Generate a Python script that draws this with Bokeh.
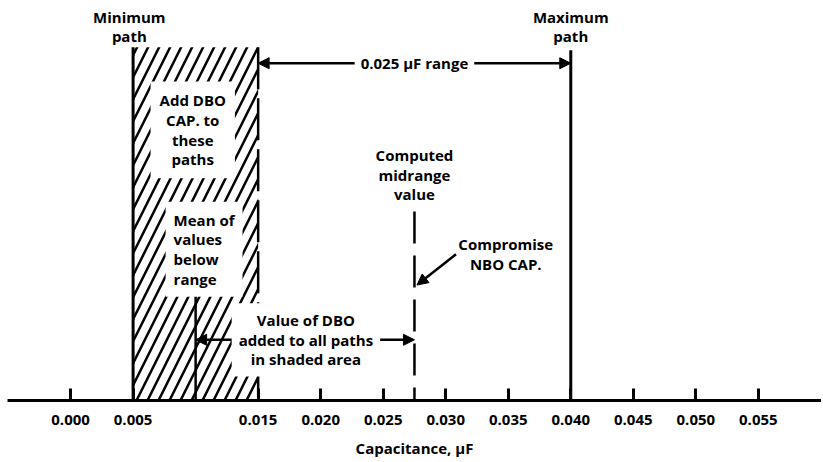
from bokeh.plotting import figure
from bokeh.models import Range1d, FixedTicker, Arrow, NormalHead, Label
from bokeh.embed import file_html
from bokeh.resources import INLINE

# ---- data (capacitance in microfarads) ----
tick_values = [0.000, 0.005, 0.015, 0.020, 0.025, 0.030, 0.035, 0.040, 0.045, 0.050, 0.055]
tick_labels = ["0.000", "0.005", "0.015", "0.020", "0.025", "0.030", "0.035", "0.040", "0.045", "0.050", "0.055"]
minimum_path = 0.005
maximum_path = 0.040
shaded_region = [0.005, 0.015]
mean_below_range = 0.010
midrange_value = 0.0275
range_width = 0.025

# vertical diagram levels (arbitrary units above the axis)
path_tops = [355, 352]          # minimum, maximum path line tops
mean_top = 114
midrange_top = 190
range_arrow_level = 339
dbo_arrow_level = 61

FONT = "Open Sans"
FS = "15px"
LH = 0.98

p = figure(width=821, height=460, output_backend="svg", toolbar_location=None,
           x_range=Range1d(-0.005044, 0.06005), y_range=Range1d(0, 394),
           y_axis_location=None, min_border_left=7, min_border_right=0,
           min_border_top=8, min_border_bottom=58)
p.outline_line_color = None
p.xgrid.visible = False
p.ygrid.visible = False
p.background_fill_color = "white"
p.border_fill_color = "white"

ax = p.xaxis[0]
ax.ticker = FixedTicker(ticks=tick_values)
ax.major_label_overrides = {v: l for v, l in zip(tick_values, tick_labels)}
ax.minor_tick_line_color = None
ax.major_tick_in = 12
ax.major_tick_out = 0
ax.major_tick_line_width = 3
ax.axis_line_width = 3
ax.major_label_standoff = 14
ax.major_label_text_font = FONT
ax.major_label_text_font_style = "bold"
ax.major_label_text_font_size = FS
ax.major_label_text_color = "black"
ax.axis_label = "Capacitance, µF"
ax.axis_label_text_font = FONT
ax.axis_label_text_font_style = "bold"
ax.axis_label_text_font_size = FS
ax.axis_label_text_color = "black"
ax.axis_label_standoff = 10

# shaded region
p.quad(left=[shaded_region[0]], right=[shaded_region[1]], bottom=[0], top=[path_tops[0]],
       fill_color=None, line_color=None, hatch_pattern="/", hatch_scale=22,
       hatch_weight=2.5, hatch_color="black")
# right edge of shaded region
p.line([shaded_region[1], shaded_region[1]], [path_tops[0], 0], line_color="black",
       line_width=2.5, line_dash="42 9")
# minimum and maximum path lines
p.segment(x0=[minimum_path, maximum_path], y0=[0, 0], x1=[minimum_path, maximum_path],
          y1=path_tops, line_color="black", line_width=3)
# mean of values below range
p.segment(x0=[mean_below_range], y0=[0], x1=[mean_below_range], y1=[mean_top],
          line_color="black", line_width=2.5)
# computed midrange (dashed)
p.line([midrange_value, midrange_value], [midrange_top, 0], line_color="black",
       line_width=2.5, line_dash="32 12")

def head():
    return NormalHead(size=11, fill_color="black", line_color="black", line_width=1)

# range arrow
p.add_layout(Arrow(start=head(), end=head(), x_start=shaded_region[1], x_end=maximum_path,
                   y_start=range_arrow_level, y_end=range_arrow_level,
                   line_color="black", line_width=2.5))
# DBO arrow
p.add_layout(Arrow(start=head(), end=head(), x_start=mean_below_range, x_end=midrange_value,
                   y_start=dbo_arrow_level, y_end=dbo_arrow_level,
                   line_color="black", line_width=2.5))
# compromise NBO arrow
p.add_layout(Arrow(end=head(), x_start=0.03082, y_start=147, x_end=midrange_value + 0.0002,
                   y_end=116, line_color="black", line_width=2.5))

def lab(x, y, text, bg=False, pad=0, align="center"):
    kw = dict(x=x, y=y, text=text, text_align=align, text_baseline="middle",
              text_font=FONT, text_font_style="bold", text_font_size=FS,
              text_color="black", text_line_height=LH)
    if bg:
        kw.update(background_fill_color="white", padding=pad)
    p.add_layout(Label(**kw))

lab(minimum_path - 0.0003, 376, "Minimum\npath")
lab(maximum_path, 376, "Maximum\npath")
lab((shaded_region[1] + maximum_path) / 2, range_arrow_level,
    f"{range_width:.3f} µF range", bg=True, pad=6)
lab(0.00977, 272, "Add DBO\nCAP. to\nthese\npaths", bg=True, pad=9)
lab(0.0076, 152, "Mean of\nvalues\nbelow\nrange", bg=True, pad=8, align="left")
lab(midrange_value, 227, "Computed\nmidrange\nvalue")
lab(0.0348, 147, "Compromise\nNBO CAP.")
lab(0.01882, dbo_arrow_level, "Value of DBO\nadded to all paths\nin shaded area", bg=True, pad=7)

open("out.html", "w").write(file_html(p, INLINE))
